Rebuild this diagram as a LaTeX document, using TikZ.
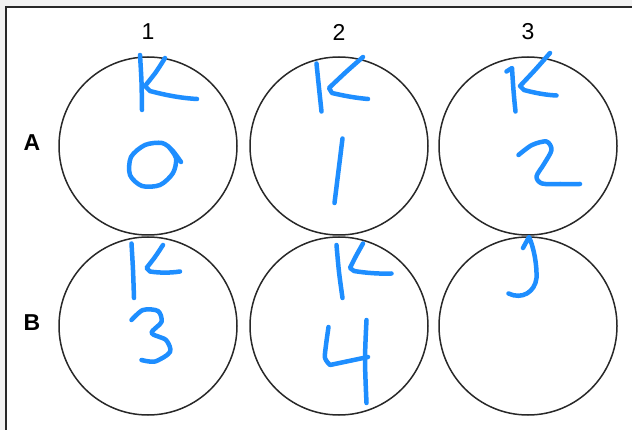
\documentclass[tikz,border=0pt]{standalone}
\usepackage{fontspec}
\setmainfont{Liberation Sans}
\definecolor{ink}{RGB}{30,142,255}
\definecolor{edge}{RGB}{40,40,40}
\definecolor{outer}{RGB}{242,242,242}
\begin{document}
\begin{tikzpicture}[x=1pt,y=-1pt,
  well/.style={circle,draw=edge,line width=1.5pt,minimum size=178pt,inner sep=0pt},
  collabel/.style={font=\fontsize{23}{23}\selectfont,inner sep=0pt},
  rowlabel/.style={font=\fontsize{23}{23}\selectfont\bfseries,inner sep=0pt},
  pen/.style={draw=ink,line width=4.5pt,line cap=round,line join=round}]
\useasboundingbox (0,0) rectangle (632,430);
\fill[outer] (0,0) rectangle (632,430);
\fill[white] (5.5,7) rectangle (632,430);
\draw[edge,line width=2pt] (5.5,430) -- (5.5,7) -- (632,7);
% labels
\node[collabel] (c1) at (148,32) {1};
\node[collabel] (c2) at (339,32) {2};
\node[collabel] (c3) at (528,32) {3};
\node[rowlabel] (rA) at (32,143) {A};
\node[rowlabel] (rB) at (32,323) {B};
% wells
\node[well] (A1) at (148,146) {};
\node[well] (A2) at (339,146) {};
\node[well] (A3) at (528,146) {};
\node[well] (B1) at (148,326) {};
\node[well] (B2) at (339,326) {};
\node[well] (B3) at (528,326) {};
% handwriting A1
\draw[pen] plot[smooth] coordinates {(140,55) (141.5,82) (142,110)};
\draw[pen] plot[smooth] coordinates {(165,58) (156,72) (145,86)} -- (150,91) .. controls (165,95) and (180,98) .. (197,99);
\draw[pen] plot[smooth] coordinates {(181,162) (172,150) (162,143) (145,145) (131,157) (130,175) (142,186) (160,185) (173,173) (176,158) (168,146)};
% A2
\draw[pen] plot[smooth] coordinates {(316.5,63.5) (319,88) (321.5,111.5)};
\draw[pen] plot[smooth] coordinates {(363,57) (346,72) (329,88)} -- (332,93) .. controls (345,96) and (356,98) .. (368,99);
\draw[pen] (342.5,138.5) -- (334.5,203);
% A3
\draw[pen] (506.5,71.5) -- (512,68) .. controls (513,85) and (514,98) .. (515.5,111.5);
\draw[pen] plot[smooth] coordinates {(550,53) (535,70) (520,86)} -- (524,90) .. controls (535,93) and (546,95) .. (556.5,95.5);
\draw[pen] plot[smooth] coordinates {(518.5,155) (532,145) (546.5,141.5) (551.5,150) (544,164) (536.5,176.5) (542,183.5) (560,184) (580,184)};
% B1
\draw[pen] plot[smooth] coordinates {(131.5,243.5) (133,270) (134,298)};
\draw[pen] plot[smooth] coordinates {(163,245) (155,257) (146.5,268)} -- (150,271.5) .. controls (160,273) and (170,273) .. (180,271.5);
\draw[pen] plot[smooth] coordinates {(131.5,320) (143,310) (158,311) (161.5,322) (151.5,333) (166,340) (170,352) (155,361.5) (141.5,360)};
% B2
\draw[pen] plot[smooth] coordinates {(336.5,245) (339,272) (342.5,298)};
\draw[pen] plot[smooth] coordinates {(363,243.5) (356,256) (350,268)} -- (354,271) .. controls (366,273) and (380,274) .. (391.5,273.5);
\draw[pen] plot[smooth] coordinates {(328.5,327) (326,345) (325,358) (330,365)} -- (368,357);
\draw[pen] plot[smooth] coordinates {(366.5,320) (365,360) (366.5,403)};
% B3
\draw[pen] (523,248) -- (529,237) .. controls (534,248) and (537,265) .. (536.5,278) .. controls (535,292) and (522,300) .. (508.5,293.5);
\end{tikzpicture}
\end{document}
